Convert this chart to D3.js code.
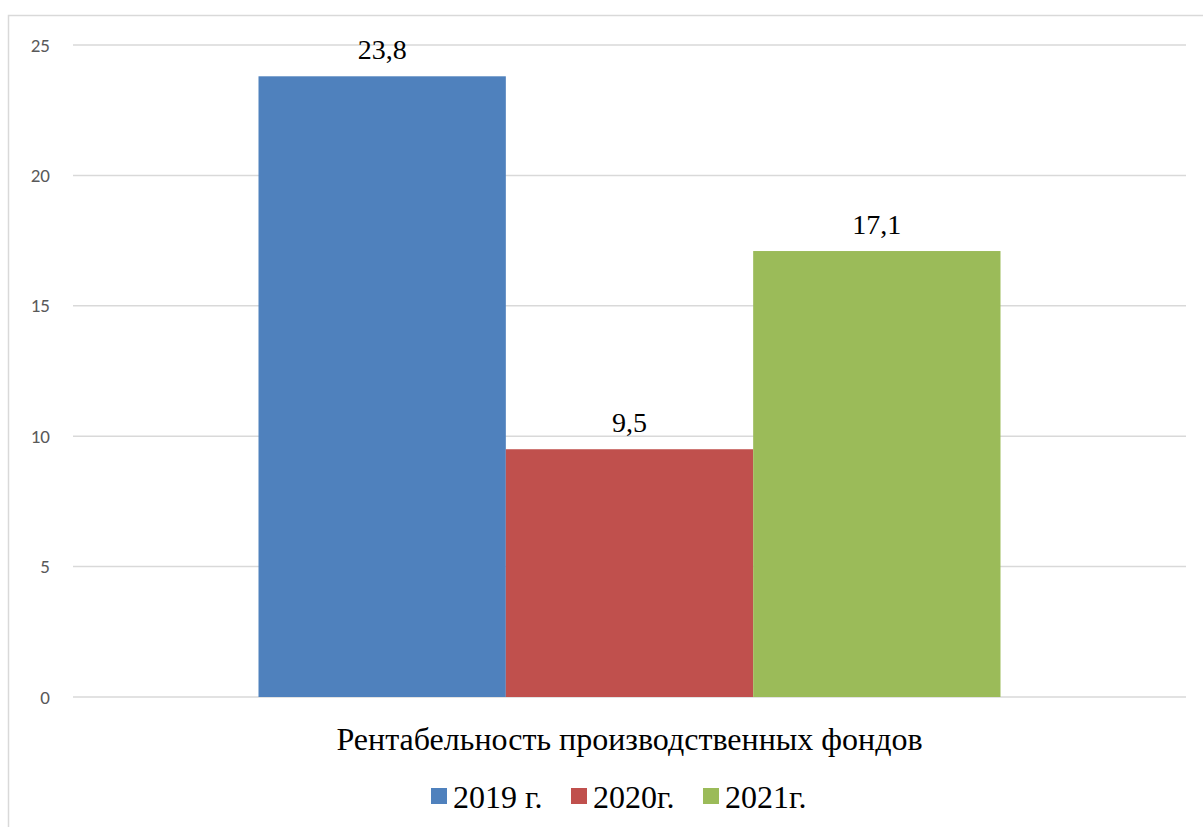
<!DOCTYPE html>
<meta charset="utf-8">
<style>
body{ margin:0; background:#fff; }
.grid line{ stroke:#d9d9d9; stroke-width:1.5px; }
.ytick text{ font-family:Calibri, Carlito, "Open Sans", sans-serif; font-size:19px; fill:#595959; }
.serif{ font-family:"Liberation Serif", "Times New Roman", serif; fill:#000; }
</style>
<svg width="1203" height="827"></svg>
<script src="https://d3js.org/d3.v7.min.js"></script>
<script>

var categories = ["Рентабельность производственных фондов"];
var series = ["2019 г.", "2020г.", "2021г."];
var values = [23.8, 9.5, 17.1];
var labels = ["23,8", "9,5", "17,1"];
var colors = ["#4f81bd", "#c0504d", "#9bbb59"];
var yTicks = [0, 5, 10, 15, 20, 25];

var svg = d3.select("svg");

// outer chart frame
svg.append("rect")
    .attr("x", 8.5).attr("y", 15.5)
    .attr("width", 1220).attr("height", 830)
    .attr("fill", "none")
    .attr("stroke", "#d9d9d9")
    .attr("stroke-width", 1.5);

var plotLeft = 73, plotRight = 1186, plotTop = 45, plotBottom = 697;

var y = d3.scaleLinear().domain([0, 25]).range([plotBottom, plotTop]);

var x0 = d3.scaleBand().domain(categories).range([plotLeft, plotRight]).paddingInner(0).paddingOuter(0.25);
var x1 = d3.scaleBand().domain(series).range([0, x0.bandwidth()]);

// gridlines
svg.append("g").attr("class", "grid")
  .selectAll("line")
  .data(yTicks)
  .enter().append("line")
    .attr("x1", plotLeft).attr("x2", plotRight)
    .attr("y1", function(d){ return y(d); })
    .attr("y2", function(d){ return y(d); });

// y axis labels
svg.append("g").attr("class", "ytick")
  .selectAll("text")
  .data(yTicks)
  .enter().append("text")
    .attr("x", 50)
    .attr("y", function(d){ return y(d); })
    .attr("dy", "0.35em")
    .attr("text-anchor", "end")
    .text(function(d){ return d; });

var g = svg.append("g").attr("transform", "translate(" + x0(categories[0]) + ",0)");

g.selectAll("rect")
  .data(values)
  .enter().append("rect")
    .attr("x", function(d, i){ return x1(series[i]); })
    .attr("y", function(d){ return y(d); })
    .attr("width", x1.bandwidth())
    .attr("height", function(d){ return plotBottom - y(d); })
    .attr("fill", function(d, i){ return colors[i]; });

g.selectAll("text")
  .data(values)
  .enter().append("text")
    .attr("class", "serif")
    .attr("x", function(d, i){ return x1(series[i]) + x1.bandwidth() / 2; })
    .attr("y", function(d){ return y(d) - 17; })
    .attr("text-anchor", "middle")
    .style("font-size", "28px")
    .text(function(d, i){ return labels[i]; });

// category label
svg.append("text")
    .attr("class", "serif")
    .attr("x", x0(categories[0]) + x0.bandwidth() / 2)
    .attr("y", 750)
    .attr("text-anchor", "middle")
    .style("font-size", "32px")
    .text(categories[0]);

// legend
var legendX = [431, 571, 703];
var legend = svg.append("g").selectAll("g")
  .data(series)
  .enter().append("g")
    .attr("transform", function(d, i){ return "translate(" + legendX[i] + ",0)"; });

legend.append("rect")
    .attr("x", 0).attr("y", 788)
    .attr("width", 16).attr("height", 16)
    .attr("fill", function(d, i){ return colors[i]; });

legend.append("text")
    .attr("class", "serif")
    .attr("x", 22).attr("y", 808)
    .style("font-size", "32px")
    .text(function(d){ return d; });

</script>
